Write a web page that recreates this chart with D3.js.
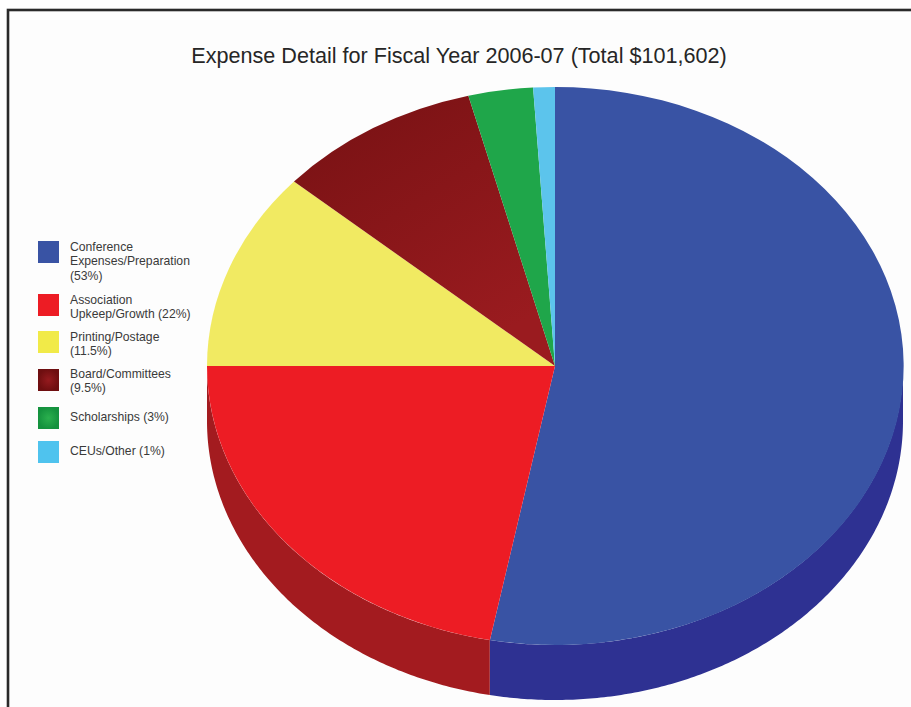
<!DOCTYPE html>
<html>
<head>
<meta charset="utf-8">
<script src="https://cdn.jsdelivr.net/npm/d3@7/dist/d3.min.js"></script>
<style>
html, body { margin: 0; padding: 0; background: #fff; overflow: hidden; }
svg { display: block; }
text { font-family: "Liberation Sans", Arial, sans-serif; }
</style>
</head>
<body>
<svg id="chart" width="911" height="707"></svg>
<script>
// Fiscal year expense breakdown, in percent of total
const categories = ["Conference Expenses/Preparation", "Association Upkeep/Growth", "Printing/Postage", "Board/Committees", "Scholarships", "CEUs/Other"];
const shares = [53, 22, 11.5, 9.5, 3, 1];
const legendLines = [
  ["Conference", "Expenses/Preparation", "(53%)"],
  ["Association", "Upkeep/Growth (22%)"],
  ["Printing/Postage", "(11.5%)"],
  ["Board/Committees", "(9.5%)"],
  ["Scholarships (3%)"],
  ["CEUs/Other (1%)"]
];
const topColors = ["#3953a4", "#ed1c24", "#f1ea62", "url(#boardTop)", "#1fa64a", "#5cc4ec"];
const swatchColors = ["#3953a4", "#ed1c24", "#f1ea48", "url(#boardSwatch)", "url(#scholarSwatch)", "#4fc3ee"];
const wallColors = ["#2e3192", "#a31b1f", "#c8c040", "#5f0f10", "#178038", "#3a9cc4"];
const legendY = [241, 294, 331, 369, 407, 441];
const legendTextY = [251, 304, 341, 378, 421, 455];
const titleText = "Expense Detail for Fiscal Year 2006-07 (Total $101,602)";

const svg = d3.select("#chart");

// Soft shading on the darker slice and legend keys
const defs = svg.append("defs");
const boardTop = defs.append("linearGradient").attr("id", "boardTop")
  .attr("x1", 0).attr("y1", 0).attr("x2", 0.6).attr("y2", 1);
boardTop.append("stop").attr("offset", 0).attr("stop-color", "#761113");
boardTop.append("stop").attr("offset", 1).attr("stop-color", "#9a1b1f");
const boardSwatch = defs.append("radialGradient").attr("id", "boardSwatch");
boardSwatch.append("stop").attr("offset", 0).attr("stop-color", "#951a1e");
boardSwatch.append("stop").attr("offset", 1).attr("stop-color", "#6e0e10");
const scholarSwatch = defs.append("radialGradient").attr("id", "scholarSwatch");
scholarSwatch.append("stop").attr("offset", 0).attr("stop-color", "#2bb04e");
scholarSwatch.append("stop").attr("offset", 1).attr("stop-color", "#14923e");

// Page frame; runs off the right and bottom edges
svg.append("rect").attr("width", 911).attr("height", 707).attr("fill", "#fff");
svg.append("rect")
  .attr("x", 8).attr("y", 10).attr("width", 920).attr("height", 720)
  .attr("fill", "#fdfdfd")
  .attr("stroke", "#2a2a2a")
  .attr("stroke-width", 2.6);

svg.append("text")
  .attr("x", 459).attr("y", 63)
  .attr("text-anchor", "middle")
  .attr("font-size", 21.6)
  .attr("fill", "#262626")
  .text(titleText);

// Pie is a tilted disc: a circular arc squashed into an ellipse, with a wall under it
const cx = 555, cy = 366, rx = 348, ry = 279, depth = 55;
const pie = d3.pie().value(d => d).sort(null);
const arcs = pie(shares);
const arc = d3.arc().innerRadius(0).outerRadius(1);

const xAt = a => cx + rx * Math.sin(a);
const yAt = a => cy - ry * Math.cos(a);

// Wall: only the front half of the rim (90deg to 270deg) can be seen
const wall = d3.area().x(a => xAt(a)).y0(a => yAt(a)).y1(a => yAt(a) + depth);
arcs.forEach((s, i) => {
  const a0 = Math.max(s.startAngle, Math.PI / 2);
  const a1 = Math.min(s.endAngle, Math.PI * 1.5);
  if (a1 <= a0) return;
  const n = Math.ceil((a1 - a0) / 0.01);
  const samples = d3.range(n + 1).map(k => a0 + (a1 - a0) * k / n);
  svg.append("path").attr("d", wall(samples)).attr("fill", wallColors[i]);
});

const disc = svg.append("g").attr("transform", `translate(${cx},${cy}) scale(${rx},${ry})`);
disc.selectAll("path").data(arcs).join("path")
  .attr("d", arc)
  .attr("fill", (d, i) => topColors[i]);

// Legend
const legend = svg.append("g");
categories.forEach((name, i) => {
  legend.append("rect")
    .attr("x", 38).attr("y", legendY[i])
    .attr("width", 21).attr("height", 22)
    .attr("fill", swatchColors[i]);
  legendLines[i].forEach((line, j) => {
    legend.append("text")
      .attr("x", 70).attr("y", legendTextY[i] + j * 14.3)
      .attr("font-size", 12.2)
      .attr("fill", "#3a3a3a")
      .text(line);
  });
});
</script>
</body>
</html>
